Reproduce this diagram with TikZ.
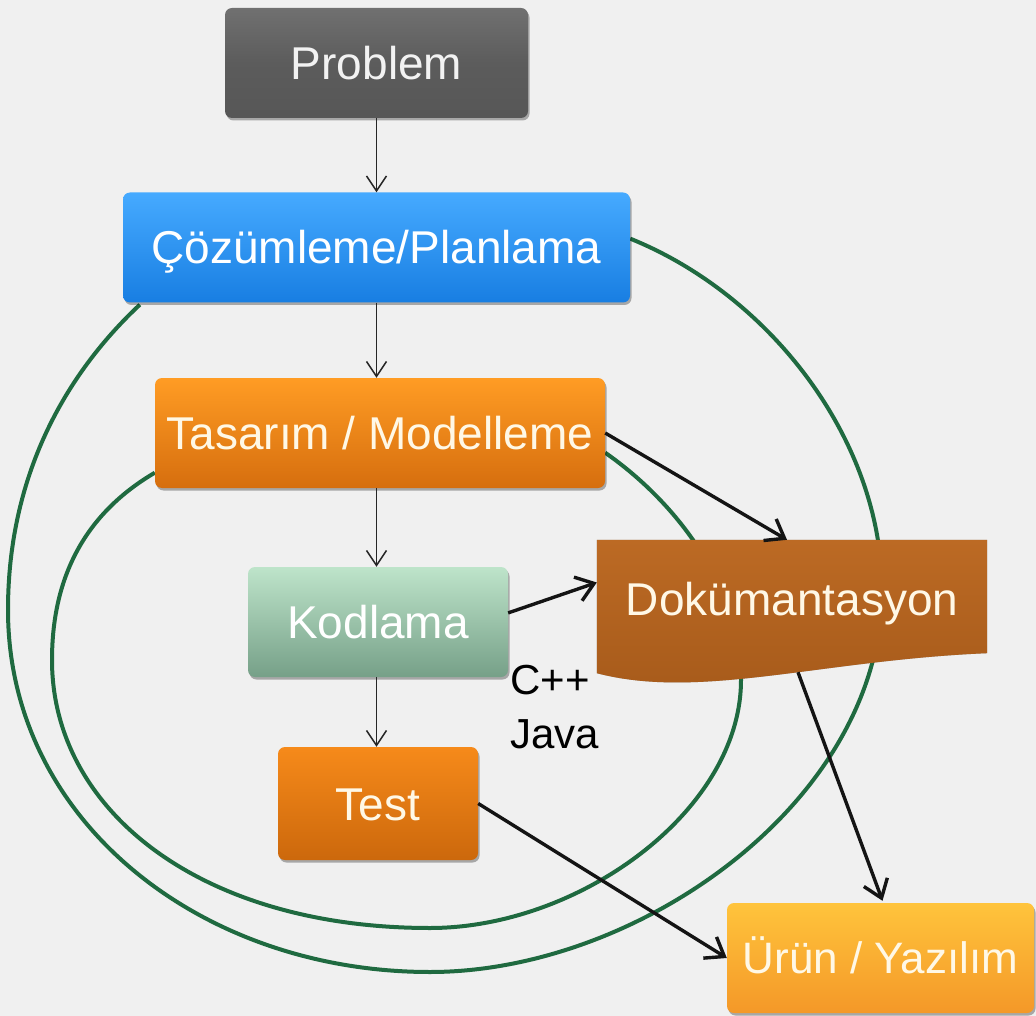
\documentclass[tikz,border=0pt]{standalone}
\usepackage{fontspec}
\setmainfont{Liberation Sans}
\usetikzlibrary{arrows.meta,calc,shadows}
\pgfdeclarelayer{bg}
\pgfdeclarelayer{back}
\pgfsetlayers{bg,back,main}

\definecolor{canvas}{HTML}{F0F0F0}
\definecolor{loopgreen}{HTML}{1F6A40}
\definecolor{cream}{HTML}{FFF8E6}

\tikzset{
  stage/.style={rectangle, rounded corners=7pt, inner sep=0pt,
    minimum height=110pt, text height=33pt, text depth=0pt,
    font=\fontsize{46}{50}\selectfont, text=white,
    drop shadow={shadow xshift=1.5pt, shadow yshift=-2.5pt, opacity=0.3, fill=black}},
  flowarrow/.style={line width=1.5pt, draw=black!85,
    -{Straight Barb[length=15pt,width=20pt,line width=1.5pt]}},
  feedarrow/.style={line width=3.4pt, draw=black!92,
    -{Straight Barb[length=17pt,width=25pt,line width=3.4pt]}},
  cycleline/.style={line width=4pt, draw=loopgreen},
}

\begin{document}
\begin{tikzpicture}[x=1pt, y=-1pt]
  \useasboundingbox (0,0) rectangle (1036,1016);
  \begin{pgfonlayer}{bg}
    \fill[canvas] (0,0) rectangle (1036,1016);
  \end{pgfonlayer}

  % process stages
  \node[stage, minimum width=303pt, top color=black!56, bottom color=black!66,
        middle color=black!64, text=black!5] (prob) at (376.5,63) {Problem};
  \node[stage, minimum width=507pt, top color={rgb,255:red,70;green,170;blue,255},
        middle color={rgb,255:red,28;green,140;blue,242},
        bottom color={rgb,255:red,24;green,126;blue,226}] (plan) at (376.5,247.5) {Çözümleme/Planlama};
  \node[stage, minimum width=450pt, top color={rgb,255:red,255;green,156;blue,36},
        middle color={rgb,255:red,244;green,136;blue,24},
        bottom color={rgb,255:red,214;green,110;blue,14}, text=cream] (tas) at (380,433) {Tasarım / Modelleme};
  \node[stage, minimum width=260pt, top color={rgb,255:red,190;green,228;blue,202},
        middle color={rgb,255:red,148;green,194;blue,168},
        bottom color={rgb,255:red,118;green,160;blue,136}, text=white] (kod) at (378,622) {Kodlama};
  \node[stage, minimum width=200pt, minimum height=113pt,
        top color={rgb,255:red,246;green,138;blue,26},
        middle color={rgb,255:red,232;green,124;blue,18},
        bottom color={rgb,255:red,204;green,104;blue,12}, text=cream] (test) at (378,803.5) {Test};
  \node[stage, minimum width=307pt, text height=31.5pt,
        font=\fontsize{44}{48}\selectfont,
        top color={rgb,255:red,255;green,196;blue,60},
        middle color={rgb,255:red,250;green,162;blue,50},
        bottom color={rgb,255:red,244;green,152;blue,40}, text=cream] (uru) at (880.5,958) {Ürün / Yazılım};

  % documentation sheet: the node carries the text, the sheet is drawn behind it
  \node[rectangle, inner sep=0pt, minimum width=390pt, text height=75pt, text depth=68pt,
        font=\fontsize{46}{50}\selectfont, text=cream] (dok) at (792,611.5) {Dokümantasyon};

  \node[anchor=north west, align=left, inner sep=0pt,
        font=\fontsize{42}{54}\selectfont, text=black] (lang) at (510,665) {C++\\Java};

  % loop ends on the stage borders
  \coordinate (outA) at (plan.2);
  \coordinate (outB) at ($(plan.south west)+(17,2)$);
  \coordinate (inA) at (tas.-5);
  \coordinate (inB) at (tas.190);

  \begin{pgfonlayer}{back}
    % outer iteration loop
    \draw[cycleline] (outA)
      .. controls (770,295) and (882,440) .. (882,590)
      .. controls (882,800) and (640,972) .. (430,972)
      .. controls (200,972) and (8,820) .. (8,610)
      .. controls (8,470) and (70,370) .. (outB);
    % inner iteration loop
    \draw[cycleline] (inA)
      .. controls (680,505) and (741,590) .. (741,680)
      .. controls (741,810) and (580,928) .. (430,928)
      .. controls (200,928) and (52,810) .. (52,660)
      .. controls (52,560) and (100,505) .. (inB);
    % documentation sheet with a wavy lower edge
    \fill[black, opacity=0.28, xshift=2pt, yshift=-4pt]
      (dok.north west) -- (dok.north east) -- ($(dok.south east)+(0,-30)$)
      .. controls ($(dok.south east)+(-167,-23)$)
      and ($(dok.south west)+(103,17)$) .. ($(dok.south west)+(0,-10)$) -- cycle;
    \shade[top color={rgb,255:red,188;green,106;blue,36},
           bottom color={rgb,255:red,166;green,90;blue,26}]
      (dok.north west) -- (dok.north east) -- ($(dok.south east)+(0,-30)$)
      .. controls ($(dok.south east)+(-167,-23)$)
      and ($(dok.south west)+(103,17)$) .. ($(dok.south west)+(0,-10)$) -- cycle;
  \end{pgfonlayer}

  % main flow
  \draw[flowarrow] (prob.south) -- (prob.south |- plan.north);
  \draw[flowarrow] (plan.south -| prob.south) -- (tas.north -| prob.south);
  \draw[flowarrow] (tas.south -| prob.south) -- (kod.north -| prob.south);
  \draw[flowarrow] (kod.south -| prob.south) -- (test.north -| prob.south);

  % towards documentation and product
  \draw[feedarrow] (tas.east) -- ($(dok.north)+(-5,0)$);
  \draw[feedarrow] (kod.4) -- ($(dok.west)+(0,-29)$);
  \draw[feedarrow] ($(dok.south)+(6,-11)$) -- ($(uru.north)+(2,-2)$);
  \draw[feedarrow] (test.east) -- (uru.west);
\end{tikzpicture}
\end{document}
